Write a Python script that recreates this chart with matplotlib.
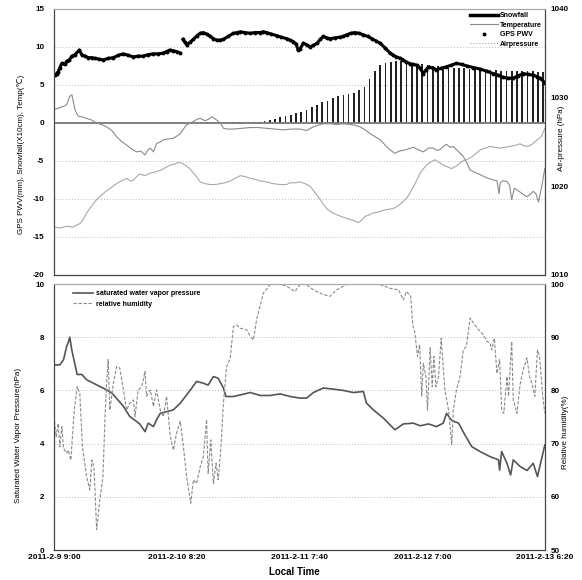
### IMPORTS ###

import matplotlib
matplotlib.use("Agg")
import matplotlib.pyplot as plt
from matplotlib.lines import Line2D
import numpy as np

plt.rcParams['font.family'] = ['Liberation Sans', 'DejaVu Sans']
plt.rcParams['axes.unicode_minus'] = False


### DATA (hours after 2011-2-9 9:00) ###

TICK_HOURS = [0, 23.33, 46.67, 70.0, 93.33]
TICK_LABELS = ["2011-2-9 9:00", "2011-2-10 8:20", "2011-2-11 7:40",
               "2011-2-12 7:00", "2011-2-13 6:20"]

pwv_hours = [0.2, 0.5, 0.8, 1.1, 1.5, 2.0, 2.4, 2.9, 3.4, 4.0, 4.8, 5.3, 5.9, 6.5, 7.2,
             7.8, 8.6, 9.4, 10.3, 11.3, 12.2, 13.2, 14.1, 15.1, 16.0, 17.0, 17.9, 18.9,
             19.8, 20.8, 21.4, 22.0, 22.7, 23.3, 24.0, 24.2, 24.5, 24.9, 25.2, 25.8,
             26.5, 27.2, 27.8, 28.4, 29.0, 29.7, 30.3, 30.9, 31.5, 32.2, 33.1, 34.1,
             34.8, 35.4, 36.3, 37.3, 38.2, 39.2, 39.8, 40.4, 41.3, 42.3, 43.2, 44.2,
             44.9, 45.5, 46.0, 46.4, 46.8, 47.4, 48.0, 48.7, 49.3, 50.0, 50.6, 51.2,
             51.8, 52.5, 53.4, 54.4, 55.0, 55.6, 56.4, 57.2, 58.0, 58.8, 59.6, 60.4,
             61.2, 62.0, 62.9, 63.9, 64.5, 65.1, 65.8, 66.4, 67.0, 67.7, 68.3, 69.0,
             69.6, 70.2, 70.7, 71.2, 72.0, 72.7, 73.6, 74.6, 75.5, 76.5, 77.5, 78.5,
             79.7, 81.0, 82.3, 83.5, 84.4, 85.4, 86.3, 87.3, 88.2, 89.2, 90.1, 91.1,
             91.8, 92.4, 93.3]
pwv_values = [6.3, 6.5, 6.75, 7.3, 7.85, 7.7, 8.1, 8.3, 8.8, 9.0, 9.6, 8.95, 8.8, 8.6, 8.6,
              8.5, 8.4, 8.3, 8.5, 8.6, 8.9, 9.1, 8.9, 8.7, 8.8, 8.8, 9.0, 9.1,
              9.1, 9.2, 9.4, 9.6, 9.5, 9.4, 9.2, np.nan, 11.0, 10.6, 10.3, 10.6,
              11.0, 11.5, 11.8, 11.9, 11.7, 11.4, 11.1, 10.9, 10.9, 11.0, 11.4, 11.8,
              11.9, 12.0, 11.9, 11.8, 11.9, 11.9, 12.0, 11.9, 11.7, 11.5, 11.3, 11.1,
              10.9, 10.7, 10.4, 9.6, 9.8, 10.5, 10.3, 10.0, 10.2, 10.5, 11.0, 11.4,
              11.2, 11.1, 11.2, 11.3, 11.4, 11.6, 11.8, 11.9, 11.8, 11.6, 11.4, 11.1,
              10.8, 10.5, 9.9, 9.2, 8.9, 8.7, 8.5, 8.3, 8.0, 7.8, 7.7, 7.6,
              7.2, 6.5, 7.0, 7.4, 7.2, 7.0, 7.2, 7.4, 7.6, 7.85, 7.7, 7.5,
              7.3, 7.1, 6.8, 6.5, 6.3, 6.0, 5.9, 5.9, 6.2, 6.5, 6.4, 6.3,
              6.1, 5.9, 5.3]

temp_hours = [0.0, 0.6, 1.5, 2.4, 3.0, 3.4, 4.0, 4.6, 5.4, 6.2, 7.1, 8.1, 9.0, 10.0, 11.0,
              11.9, 12.8, 13.8, 14.7, 15.7, 16.5, 17.3, 17.8, 18.3, 18.9, 19.5, 20.2,
              20.8, 21.8, 22.7, 23.4, 24.0, 24.6, 25.2, 25.9, 26.5, 27.2, 27.8, 28.7,
              29.4, 30.0, 30.9, 31.6, 32.2, 33.1, 34.1, 35.7, 37.3, 38.8, 40.4, 42.0,
              43.6, 45.2, 46.8, 48.0, 49.3, 50.2, 51.2, 52.5, 53.7, 55.0, 56.3, 57.2,
              58.2, 59.1, 60.1, 61.0, 62.0, 63.2, 64.0, 64.8, 65.6, 66.4, 67.4, 68.3,
              69.2, 70.2, 71.2, 72.1, 72.8, 73.4, 74.0, 74.6, 75.3, 75.9, 76.5, 77.8,
              78.5, 79.1, 80.0, 81.0, 82.2, 83.5, 84.2, 84.6, 84.8, 85.3, 86.1, 86.6,
              87.0, 87.5, 88.0, 89.0, 89.9, 90.5, 91.1, 91.6, 92.1, 92.7, 93.3]
temp_values = [1.8, 1.9, 2.1, 2.4, 3.5, 3.7, 1.7, 0.9, 0.8, 0.6, 0.4, 0.0, -0.2, -0.5, -1.0,
               -1.8, -2.4, -2.9, -3.4, -3.8, -3.7, -4.2, -3.6, -3.3, -3.8, -2.7, -2.5,
               -2.2, -2.1, -2.0, -1.7, -1.4, -0.8, -0.25, 0.0, 0.2, 0.5, 0.6, 0.3,
               0.5, 0.8, 0.4, 0.0, -0.7, -0.8, -0.8, -0.7, -0.6, -0.6, -0.7, -0.8,
               -0.9, -0.8, -0.8, -1.0, -0.5, -0.3, -0.1, -0.1, -0.2, -0.1, -0.2, -0.3,
               -0.5, -0.9, -1.4, -1.8, -2.2, -3.1, -3.6, -4.0, -3.7, -3.6, -3.4, -3.2,
               -3.5, -3.8, -3.3, -3.3, -3.6, -3.5, -3.1, -2.8, -3.2, -3.1, -3.5, -4.4,
               -5.3, -6.2, -6.5, -6.8, -7.2, -7.5, -7.6, -9.3, -7.9, -7.6, -7.7, -8.2,
               -10.1, -8.6, -8.8, -9.3, -9.7, -9.4, -9.0, -9.3, -10.4, -8.4, -6.0]

press_hours = [0.0, 1.2, 2.4, 3.6, 4.9, 5.6, 6.2, 7.2, 8.1, 9.0, 10.0, 11.0, 11.9, 12.8,
               13.8, 14.5, 15.1, 15.7, 16.3, 17.3, 18.3, 19.2, 20.2, 21.2, 22.1, 23.0,
               23.6, 24.4, 25.2, 25.8, 26.5, 27.2, 27.8, 28.7, 29.7, 30.6, 31.6, 32.5,
               33.5, 34.4, 35.4, 36.3, 37.3, 38.2, 39.2, 40.4, 41.7, 43.0, 44.2, 44.9,
               45.8, 46.8, 47.7, 48.7, 49.6, 50.6, 51.2, 51.8, 52.7, 53.7, 54.6, 55.6,
               56.7, 57.9, 58.5, 59.1, 60.0, 60.7, 61.6, 62.6, 63.5, 64.5, 65.4, 66.4,
               67.2, 68.0, 68.8, 69.6, 70.4, 71.2, 71.8, 72.4, 73.2, 74.0, 74.8, 75.6,
               76.5, 77.5, 78.4, 79.4, 80.2, 81.0, 82.0, 82.9, 83.8, 84.8, 85.7, 86.7,
               87.6, 88.6, 89.2, 89.9, 90.8, 91.8, 92.6, 93.3]
press_values = [1015.4, 1015.3, 1015.5, 1015.4, 1015.8, 1016.3, 1017.0, 1017.8, 1018.5,
                1019.0, 1019.5, 1019.9, 1020.3, 1020.6, 1020.9, 1020.6, 1020.7, 1021.1,
                1021.4, 1021.2, 1021.5, 1021.6, 1021.8, 1022.1, 1022.4, 1022.5, 1022.7,
                1022.6, 1022.3, 1022.0, 1021.5, 1021.0, 1020.5, 1020.3, 1020.2, 1020.2,
                1020.3, 1020.4, 1020.6, 1020.9, 1021.2, 1021.1, 1020.9, 1020.8, 1020.6,
                1020.5, 1020.3, 1020.2, 1020.2, 1020.4, 1020.4, 1020.5, 1020.3, 1020.0,
                1019.3, 1018.5, 1018.0, 1017.5, 1017.1, 1016.8, 1016.6, 1016.4, 1016.2,
                1015.9, 1016.2, 1016.6, 1016.8, 1017.0, 1017.1, 1017.3, 1017.4, 1017.5,
                1017.8, 1018.3, 1018.8, 1019.6, 1020.5, 1021.5, 1022.1, 1022.6, 1022.8,
                1023.0, 1022.7, 1022.4, 1022.2, 1022.0, 1022.3, 1022.8, 1023.0, 1023.3,
                1023.7, 1024.1, 1024.3, 1024.5, 1024.4, 1024.3, 1024.4, 1024.5, 1024.6,
                1024.8, 1024.6, 1024.5, 1024.7, 1025.2, 1025.6, 1026.5]

snow_start = 34
snowfall = [0.1, 0.1, 0.1, 0.1, 0.1, 0.15, 0.2, 0.35, 0.5, 0.8,
            0.9, 1.05, 1.3, 1.5, 1.75, 2.05, 2.35, 2.75, 2.95, 3.25,
            3.55, 3.7, 3.8, 3.9, 4.35, 4.7, 5.8, 6.8, 7.6, 7.95,
            8.05, 8.1, 8.1, 8.0, 7.9, 7.8, 7.7, 7.6, 7.5, 7.5,
            7.4, 7.3, 7.2, 7.2, 7.2, 7.1, 7.1, 7.1, 7.0, 7.0,
            7.0, 6.9, 6.9, 6.9, 6.9, 6.8, 6.8, 6.8, 6.75, 6.7]

swvp_hours = [0.2, 1.1, 1.8, 2.1, 2.4, 2.7, 3.0, 3.4, 4.0, 4.4, 5.3, 6.2, 7.5, 8.7, 10.0,
              11.0, 11.9, 13.2, 14.4, 15.7, 16.3, 17.3, 17.9, 18.9, 19.5, 20.2, 21.4,
              22.7, 24.0, 25.2, 26.2, 27.1, 28.4, 29.3, 30.3, 31.2, 32.2, 32.7, 34.1,
              35.4, 37.3, 39.2, 41.1, 43.0, 44.9, 46.8, 48.0, 49.3, 51.2, 53.1, 55.0,
              56.9, 58.8, 59.4, 60.7, 62.6, 64.8, 66.4, 68.3, 69.6, 71.2, 72.7, 74.0,
              74.6, 75.6, 76.9, 78.1, 79.4, 81.0, 82.9, 84.5, 84.7, 85.1, 86.1, 86.8,
              87.3, 88.6, 89.9, 91.1, 91.9, 93.3]
swvp_values = [6.96, 6.96, 7.15, 7.4, 7.65, 7.8, 8.0, 7.5, 6.96, 6.6, 6.6, 6.4, 6.27, 6.15,
               6.02, 5.9, 5.7, 5.4, 5.02, 4.83, 4.74, 4.45, 4.77, 4.64, 4.9, 5.14, 5.2,
               5.27, 5.52, 5.83, 6.09, 6.34, 6.27, 6.2, 6.52, 6.46, 6.09, 5.77, 5.77,
               5.83, 5.92, 5.81, 5.81, 5.87, 5.77, 5.71, 5.71, 5.92, 6.09, 6.05, 6.0,
               5.92, 5.96, 5.52, 5.27, 4.96, 4.52, 4.74, 4.77, 4.67, 4.74, 4.64, 4.77,
               5.14, 4.87, 4.77, 4.33, 3.89, 3.7, 3.51, 3.39, 3.0, 3.7, 3.26, 2.82,
               3.39, 3.14, 2.99, 3.26, 2.76, 3.95]

rh_hours = [0.0, 0.4, 0.8, 1.1, 1.5, 1.8, 2.4, 2.7, 3.2, 3.8, 4.4, 4.9, 5.4, 6.2, 6.8,
            7.2, 7.6, 8.1, 8.7, 9.3, 9.7, 10.0, 10.3, 10.6, 11.3, 11.9, 12.5, 13.2,
            13.8, 14.4, 15.1, 15.4, 16.0, 16.7, 17.3, 17.6, 18.3, 18.9, 19.5, 20.2,
            20.8, 21.4, 22.1, 22.7, 23.3, 24.0, 24.6, 25.2, 26.0, 26.5, 27.1, 27.8,
            28.4, 29.0, 29.3, 29.8, 30.3, 30.8, 31.2, 31.7, 32.2, 32.8, 33.5, 34.1,
            34.7, 35.4, 36.6, 37.3, 37.9, 38.5, 39.8, 41.1, 43.0, 44.2, 45.8, 46.8,
            48.0, 49.3, 51.2, 52.5, 53.7, 55.6, 58.8, 62.0, 63.9, 65.5, 66.4, 67.0,
            67.8, 68.2, 68.6, 69.1, 69.5, 69.9, 70.2, 70.7, 71.0, 71.5, 71.9, 72.2,
            72.6, 73.1, 73.6, 74.3, 75.0, 75.6, 75.9, 76.5, 77.2, 77.8, 78.4, 79.1,
            79.7, 80.7, 81.6, 82.3, 82.9, 83.2, 83.7, 84.2, 84.7, 85.1, 85.5, 86.1,
            86.4, 87.0, 87.3, 88.0, 88.6, 89.2, 89.9, 90.4, 90.8, 91.4, 91.9, 92.3,
            92.9, 93.3]
rh_values = [75.1, 71.3, 73.8, 69.4, 73.2, 69.1, 68.2, 68.8, 66.9, 75.7, 80.7, 79.5, 69.4,
             63.8, 61.3, 66.9, 65.7, 53.8, 59.4, 63.8, 75.1, 81.4, 85.8, 76.3, 81.4,
             84.5, 84.2, 80.1, 76.3, 77.6, 78.2, 75.1, 80.1, 80.7, 83.6, 78.9, 80.1,
             77.0, 80.1, 76.3, 75.1, 78.9, 71.3, 68.8, 72.0, 74.2, 69.4, 63.8, 58.8,
             63.2, 62.5, 65.7, 67.6, 74.5, 64.4, 70.7, 62.5, 66.3, 63.2, 68.8, 77.6,
             84.5, 86.1, 92.0, 92.3, 91.7, 91.4, 90.2, 89.5, 93.3, 98.3, 99.9, 100.0,
             99.6, 98.6, 99.9, 99.9, 98.9, 98.0, 97.7, 98.9, 99.9, 100.0, 99.9, 99.2,
             98.9, 97.0, 98.6, 97.7, 92.3, 90.8, 86.4, 88.6, 78.9, 85.1, 82.6, 76.3,
             88.0, 80.7, 86.4, 80.7, 82.6, 89.8, 80.1, 76.3, 69.8, 76.3, 80.1, 82.6,
             87.6, 88.3, 93.6, 92.7, 91.4, 90.5, 89.2, 88.9, 87.6, 89.8, 83.2, 85.8,
             76.3, 75.7, 82.6, 78.9, 89.2, 78.2, 75.7, 81.1, 83.9, 86.1, 82.6, 81.4,
             78.9, 87.6, 86.4, 78.9, 75.7]


### HELPERS ###

def style_axis(ax, ticks, right_ax):
    """ Shared look of both panels """
    ax.set_xlim(0, TICK_HOURS[-1])
    ax.set_yticks(ticks)
    ax.set_ylim(ticks[0], ticks[-1])
    ax.yaxis.grid(True, linestyle=(0, (1, 2)), color="#bbbbbb", linewidth=0.7)
    ax.set_axisbelow(True)
    ax.spines["top"].set_color("#aaaaaa")
    right_ax.spines["top"].set_color("#aaaaaa")
    for name in ["left", "bottom", "right"]:
        ax.spines[name].set_color("#444444")
        right_ax.spines[name].set_color("#444444")
    ax.tick_params(axis="y", length=0, pad=7, labelsize=5.8)
    right_ax.tick_params(axis="y", length=0, pad=4, labelsize=5.8)
    for lab in ax.get_yticklabels() + right_ax.get_yticklabels():
        lab.set_fontweight("bold")


### PLOTTING ###

fig = plt.figure(figsize=(5.82, 5.80), dpi=100)
ax1 = fig.add_axes([0.0928, 0.5259, 0.8436, 0.4586])
ax1r = ax1.twinx()
ax2 = fig.add_axes([0.0928, 0.0517, 0.8436, 0.4586])
ax2r = ax2.twinx()

# top panel
snow_hours = np.arange(snow_start, snow_start + len(snowfall))
ax1.bar(snow_hours, snowfall, width=0.32, color="#222222", zorder=2)
ax1.axhline(0, color="#777777", linewidth=1.3, zorder=3)
ax1.plot(temp_hours, temp_values, color="#8a8a8a", linewidth=0.8, zorder=4)
ax1.plot(pwv_hours, pwv_values, color="black", linewidth=2.2, zorder=5)
ax1.plot(pwv_hours, pwv_values, linestyle="none", marker="o", markersize=1.8,
         color="black", zorder=5)
ax1r.plot(press_hours, press_values, color="#a8a8a8", linewidth=0.8)
ax1r.set_ylim(1010, 1040)

style_axis(ax1, [-20, -15, -10, -5, 0, 5, 10, 15], ax1r)
ax1r.set_yticks([1010, 1020, 1030, 1040])
for lab in ax1r.get_yticklabels():
    lab.set_fontweight("bold")
ax1.set_xticks(TICK_HOURS, [])
ax1.tick_params(axis="x", length=0)

ax1.set_ylabel("GPS PWV(mm), Snowfall(X10cm), Temp(\u2103)", fontsize=5.8)
ax1.yaxis.set_label_coords(-0.059, 0.455)
ax1r.set_ylabel("Air-pressure (hPa)", fontsize=5.8)
ax1r.yaxis.set_label_coords(1.026, 0.515)

handles = [Line2D([], [], color="black", linewidth=2.5),
           Line2D([], [], color="#8a8a8a", linewidth=0.8),
           Line2D([], [], color="black", linestyle="none", marker="o", markersize=1.8),
           Line2D([], [], color="#a8a8a8", linewidth=0.8, linestyle=":")]
ax1.legend(handles, ["Snowfall", "Temperature", "GPS PWV", "Airpressure"],
           loc="upper right", frameon=False, prop={"size": 5, "weight": "bold"},
           handlelength=4.0, handletextpad=0.3, labelspacing=0.35,
           borderaxespad=0.1, bbox_to_anchor=(1.0, 1.0))

# bottom panel
ax2.plot(swvp_hours, swvp_values, color="#555555", linewidth=1.2, zorder=4,
         label="saturated water vapor pressure")
ax2r.plot(rh_hours, rh_values, color="#8a8a8a", linewidth=0.8,
          linestyle=(0, (3, 1.5)), label="relative humidity")
ax2r.set_ylim(50, 100)

style_axis(ax2, [0, 2, 4, 6, 8, 10], ax2r)
ax2r.set_yticks([50, 60, 70, 80, 90, 100])
for lab in ax2r.get_yticklabels():
    lab.set_fontweight("bold")
ax2.set_xticks(TICK_HOURS, TICK_LABELS)
ax2.tick_params(axis="x", length=0, pad=3, labelsize=6)
for lab in ax2.get_xticklabels():
    lab.set_fontweight("bold")

ax2.set_ylabel("Saturated Water Vapor Pressure(hPa)", fontsize=5.8)
ax2.yaxis.set_label_coords(-0.065, 0.432)
ax2r.set_ylabel("Relative humidity(%)", fontsize=5.8)
ax2r.yaxis.set_label_coords(1.035, 0.444)
ax2.set_xlabel("Local Time", fontsize=7, fontweight="bold")
ax2.xaxis.set_label_coords(0.49, -0.062)

lines = ax2.get_lines() + ax2r.get_lines()
ax2.legend(lines, [l.get_label() for l in lines], loc="upper left", frameon=False,
           prop={"size": 5, "weight": "bold"}, handlelength=3.0, handletextpad=0.4,
           labelspacing=0.5, bbox_to_anchor=(0.025, 1.0))

fig.savefig("out.png", dpi=100)
